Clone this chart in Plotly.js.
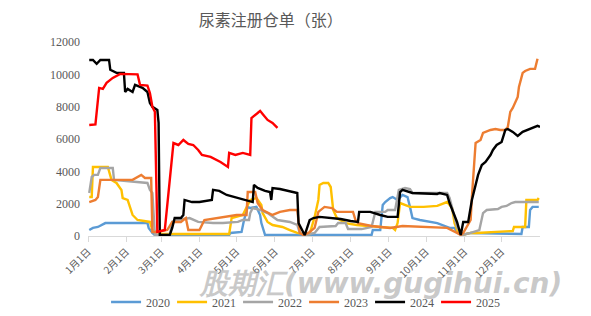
<!DOCTYPE html>
<html>
<head>
<meta charset="utf-8">
<script src="https://cdn.plot.ly/plotly-3.0.1.min.js"></script>
<style>html,body{margin:0;padding:0;background:#fff;}#chart{width:591px;height:316px;}</style>
</head>
<body>
<div id="chart"></div>
<script>
// Day of year (0 = 1月1日) and warehouse receipt counts (张)
const years = ["2020", "2021", "2022", "2023", "2024", "2025"];
const colors = ["#5B9BD5", "#FFC000", "#A5A5A5", "#ED7D31", "#000000", "#FF0000"];

const days2020 = [1,4,8,11,14,48,49,52,54,114,115,124,126,129,131,136,139,140,143,229,230,236,238,240,244,246,250,254,258,260,262,268,282,292,296,298,302,309,340,350,351,356,357,359,364];
const vals2020 = [370,500,560,680,800,800,500,190,60,60,190,250,990,1800,1730,1800,1300,800,60,60,370,370,1920,2100,2350,2410,2230,2540,2410,1800,1110,990,800,500,500,250,60,190,120,120,560,560,1610,1800,1800];

const days2021 = [1,3,4,16,19,23,27,28,32,34,36,40,50,52,57,60,114,116,125,131,136,140,141,145,149,157,163,169,175,179,183,186,187,190,194,196,198,201,208,217,236,246,248,250,252,260,271,282,290,294,296,299,302,309,314,327,343,344,353,354,363,364];
const vals2021 = [2410,2410,4270,4270,3470,3280,2850,2350,2230,1730,1300,990,870,370,190,120,120,1110,1300,2230,2350,1920,1420,870,680,560,370,190,120,120,1180,2230,3160,3280,3280,3030,1610,1110,800,680,560,500,370,800,2040,1800,1800,1860,2100,1730,800,190,60,190,190,250,310,560,560,2230,2230,2350];

const days2022 = [1,3,5,8,10,20,21,40,48,50,52,54,66,68,72,82,89,101,109,121,125,130,131,133,139,145,153,163,169,171,175,183,187,200,202,208,210,221,229,232,240,242,248,251,256,260,262,290,292,298,302,309,316,319,322,331,334,338,342,345,364];
const vals2022 = [2660,3650,3780,3780,4210,4210,3470,3340,3280,2850,2660,60,60,870,990,1110,870,800,800,870,990,990,1420,1730,1610,1420,990,870,680,190,60,190,560,620,800,800,430,430,560,1490,1490,1610,1610,2850,2970,2910,2660,2660,2350,560,60,190,370,1420,1610,1670,1800,1860,2040,2100,2100];

const days2023 = [1,6,8,10,36,43,46,51,52,55,64,68,75,79,81,90,94,104,109,120,128,129,135,137,141,149,155,163,169,171,174,178,183,186,191,197,201,214,216,218,229,244,254,282,290,298,301,303,309,310,311,313,317,318,319,325,329,333,337,339,341,343,347,348,351,353,357,361,362,363];
const vals2023 = [2100,2230,2410,3470,3470,3780,3590,3590,250,250,370,870,870,1110,370,370,990,1110,1180,1300,1300,2720,2720,2040,1610,1300,1490,1610,1610,190,60,190,500,1490,1800,1730,1490,1490,990,800,620,500,620,560,500,190,60,190,990,2410,3470,5750,5940,6250,6380,6560,6620,6560,6560,6750,7680,7920,8600,9220,10090,10210,10340,10340,10770,10960];

const days2024 = [1,4,7,10,17,18,23,29,30,32,36,38,44,48,50,52,56,57,58,66,68,70,75,77,78,84,90,100,101,106,112,121,129,133,134,137,143,147,148,149,155,166,169,170,175,179,182,187,196,204,212,218,219,228,236,242,250,252,254,262,282,284,290,292,298,301,303,307,310,313,315,318,321,325,327,330,334,337,339,343,347,351,355,360,363,365];
const vals2024 = [10890,10890,10650,10890,10890,10280,10090,10090,8910,9100,8910,9350,9160,8910,8230,7990,7800,7000,60,60,500,1110,1110,1300,2230,2100,2100,2230,2850,2790,2540,2350,2170,2100,3160,2970,2790,2720,2230,2970,2910,2720,2660,800,60,990,1110,1180,1110,1050,930,870,1490,1490,1300,1180,1180,2720,2850,2660,2600,2660,2540,2040,870,60,870,870,2230,3160,3780,4390,4580,5010,5320,5630,5820,6560,6620,6440,6190,6440,6560,6750,6810,6750];

const days2025 = [1,6,9,12,15,20,26,40,42,48,50,52,54,56,62,64,69,73,77,81,85,89,92,99,107,113,114,119,125,131,132,137,139,141,145,149,153];
const vals2025 = [6870,6900,9160,9100,9470,9780,10030,10000,9350,9300,8850,7990,7680,250,370,1800,5750,5630,5940,5700,5630,5320,5010,4890,4580,4270,5140,5010,5140,5010,7300,7610,7740,7550,7180,6990,6690];

const monthDays = [0,31,59,90,120,151,181,212,243,273,304,334];
const monthLabels = ["1月1日","2月1日","3月1日","4月1日","5月1日","6月1日","7月1日","8月1日","9月1日","10月1日","11月1日","12月1日"];
const yTicks = [0,2000,4000,6000,8000,10000,12000];
const yLabels = ["0","2000","4000","6000","8000","10000","12000"];

const allDays = [days2020, days2021, days2022, days2023, days2024, days2025];
const allVals = [vals2020, vals2021, vals2022, vals2023, vals2024, vals2025];

const traces = years.map((y, i) => ({
  type: "scatter", mode: "lines", name: y,
  x: allDays[i], y: allVals[i],
  line: {color: colors[i], width: 2.4},
  hoverinfo: "skip"
}));

const gray = "#595959";
const layout = {
  width: 591, height: 316,
  margin: {l: 88, r: 51, t: 42, b: 80, autoexpand: false},
  paper_bgcolor: "#fff", plot_bgcolor: "#fff",
  showlegend: true,
  title: {text: "尿素注册仓单（张）", x: 0.458, xanchor: "center", y: 0.935, yanchor: "middle",
          font: {family: "Noto Sans CJK SC", size: 16, color: gray}},
  xaxis: {range: [0, 365], tickvals: monthDays, ticktext: monthLabels, tickangle: -45,
          showgrid: false, zeroline: false, showline: true, linecolor: "#d9d9d9", linewidth: 1,
          ticks: "outside", ticklen: 5, tickcolor: "#d9d9d9",
          tickfont: {family: "Noto Sans CJK SC", size: 10, color: gray}},
  yaxis: {range: [0, 12000], tickvals: yTicks, ticktext: yLabels, showgrid: false, zeroline: false, showline: false,
          ticks: "", ticklabelstandoff: 7,
          tickfont: {family: "Liberation Serif", size: 12, color: gray}},
  legend: {orientation: "h", x: 0.478, xanchor: "center", y: -0.34, yanchor: "middle",
           font: {family: "Liberation Serif", size: 12, color: gray},
           entrywidth: 21, entrywidthmode: "pixels", itemwidth: 30},
  annotations: [{text: "股期汇(www.gugihui.cn)", xref: "paper", yref: "paper", x: 0.645, y: -0.245,
                 xanchor: "center", yanchor: "middle", showarrow: false,
                 font: {family: "DejaVu Sans", size: 28, color: "rgba(165,165,165,0.6)", weight: "bold", style: "italic"}}]
};
Plotly.newPlot("chart", traces, layout, {staticPlot: true, displayModeBar: false});
</script>
</body>
</html>
